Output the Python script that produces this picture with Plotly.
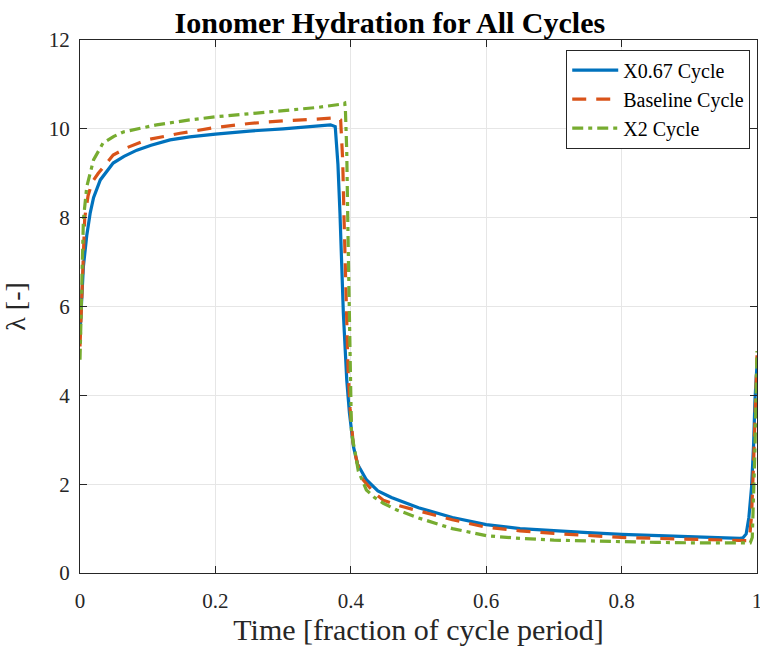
import plotly.graph_objects as go

# X0.67 cycle (blue)
x_067 = [0, 0.002, 0.005, 0.01, 0.015, 0.02, 0.03, 0.049, 0.065, 0.084, 0.105, 0.133, 0.162, 0.2, 0.25,
         0.3, 0.34, 0.37, 0.377, 0.381, 0.384, 0.389, 0.394, 0.398, 0.404, 0.41, 0.423, 0.44, 0.46,
         0.473, 0.5, 0.55, 0.6, 0.65, 0.7, 0.75, 0.8, 0.85, 0.9, 0.95, 0.975, 0.979, 0.984, 0.988,
         0.992, 0.995, 0.997, 1.0]
y_067 = [5.4, 6.0, 6.9, 7.6, 8.1, 8.45, 8.85, 9.23, 9.38, 9.52, 9.63, 9.75, 9.82, 9.88, 9.95,
         10.0, 10.05, 10.09, 10.05, 9.2, 8.1, 5.85, 4.35, 3.6, 2.84, 2.45, 2.1, 1.85, 1.7,
         1.63, 1.47, 1.25, 1.09, 1.0, 0.95, 0.91, 0.87, 0.84, 0.81, 0.79, 0.78, 0.79, 0.88, 1.25,
         1.94, 2.9, 3.9, 4.7]

# Baseline cycle (orange)
x_base = [0, 0.002, 0.004, 0.007, 0.012, 0.018, 0.027, 0.049, 0.07, 0.098, 0.148, 0.2, 0.25, 0.3,
          0.35, 0.38, 0.385, 0.388, 0.39, 0.392, 0.394, 0.396, 0.399, 0.404, 0.41, 0.418, 0.435,
          0.448, 0.47, 0.5, 0.55, 0.6, 0.65, 0.7, 0.75, 0.8, 0.85, 0.9, 0.95, 0.985, 0.989, 0.992,
          0.995, 0.998, 1.0]
y_base = [5.1, 6.0, 7.0, 8.0, 8.5, 8.8, 9.0, 9.41, 9.58, 9.75, 9.9, 10.03, 10.12, 10.18,
          10.22, 10.25, 10.2, 9.3, 8.0, 6.6, 5.3, 4.57, 3.7, 2.84, 2.45, 2.1, 1.8,
          1.64, 1.52, 1.4, 1.2, 1.03, 0.95, 0.89, 0.84, 0.8, 0.78, 0.76, 0.74, 0.73, 0.78, 1.3,
          2.5, 3.9, 4.9]

# X2 cycle (green)
x_x2 = [0, 0.002, 0.005, 0.01, 0.02, 0.034, 0.05, 0.064, 0.085, 0.113, 0.162, 0.2, 0.25, 0.3, 0.35,
        0.388, 0.391, 0.392, 0.394, 0.396, 0.398, 0.399, 0.401, 0.406, 0.411, 0.423, 0.435, 0.448,
        0.468, 0.5, 0.55, 0.6, 0.65, 0.7, 0.75, 0.8, 0.85, 0.9, 0.95, 0.99, 0.993, 0.995, 0.997,
        0.999, 1.0]
y_x2 = [4.8, 6.2, 7.95, 8.7, 9.3, 9.68, 9.83, 9.93, 10.0, 10.09, 10.2, 10.27, 10.34, 10.41, 10.48,
        10.56, 10.58, 10.45, 9.5, 7.5, 5.5, 4.5, 3.15, 2.75, 2.3, 1.87, 1.7, 1.57,
        1.42, 1.24, 1.0, 0.84, 0.78, 0.74, 0.72, 0.7, 0.69, 0.68, 0.68, 0.68, 0.8, 1.6, 2.8,
        4.2, 5.0]

x_ticks = [0, 0.2, 0.4, 0.6, 0.8, 1]
x_tick_labels = ["0", "0.2", "0.4", "0.6", "0.8", "1"]
y_ticks = [0, 2, 4, 6, 8, 10, 12]
y_tick_labels = ["0", "2", "4", "6", "8", "10", "12"]

FONT = "Liberation Serif"

fig = go.Figure()
fig.add_trace(go.Scatter(x=x_067, y=y_067, mode="lines", name="X0.67 Cycle",
                         line=dict(color="#0072BD", width=3.2)))
fig.add_trace(go.Scatter(x=x_base, y=y_base, mode="lines", name="Baseline Cycle",
                         line=dict(color="#D95319", width=3.2, dash="14px,10px")))
fig.add_trace(go.Scatter(x=x_x2, y=y_x2, mode="lines", name="X2 Cycle",
                         line=dict(color="#77AC30", width=3.2, dash="11px,5px,4px,5px")))

axis_common = dict(showline=True, linecolor="#262626", linewidth=1.3, mirror="ticks",
                   ticks="inside", ticklen=7, tickcolor="#262626", showgrid=True,
                   gridcolor="#E6E6E6", gridwidth=1, zeroline=False,
                   ticklabeloverflow="allow", automargin=False,
                   tickfont=dict(family=FONT, size=21, color="#262626"))

fig.update_layout(
    width=760, height=649,
    margin=dict(l=80, r=3, t=40, b=76),
    paper_bgcolor="white", plot_bgcolor="white",
    title=dict(text="<b>Ionomer Hydration for All Cycles</b>", x=0.513, xanchor="center",
               y=0.966, yanchor="middle",
               font=dict(family=FONT, size=30, color="black")),
    xaxis=dict(range=[0, 1], tickvals=x_ticks, ticktext=x_tick_labels, ticklabelstandoff=9,
               title=dict(text="Time [fraction of cycle period]", standoff=3,
                          font=dict(family=FONT, size=30, color="#262626")),
               **axis_common),
    yaxis=dict(range=[0, 12], tickvals=y_ticks, ticktext=y_tick_labels, ticklabelstandoff=5,
               title=dict(text="λ [-]", standoff=16,
                          font=dict(family=FONT, size=28, color="#262626")),
               **axis_common),
    legend=dict(x=0.99, y=0.982, xanchor="right", yanchor="top",
                bgcolor="white", bordercolor="#262626", borderwidth=1,
                font=dict(family=FONT, size=20, color="black"),
                itemwidth=46, tracegroupgap=0),
    showlegend=True,
)

fig.write_html("out.html", config={"displayModeBar": False},
               post_script="document.body.style.margin='0px';")
